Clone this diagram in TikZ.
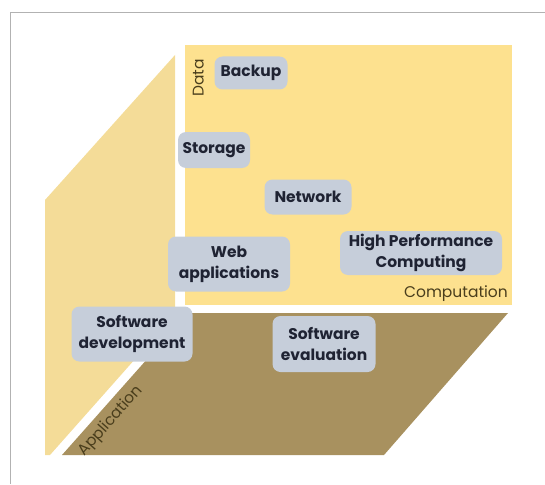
\documentclass[tikz,border=0pt]{standalone}
\usepackage{fontspec}
\setmainfont{Poppins}
\usepackage{tikz}

\definecolor{panelyellow}{HTML}{FDE18F}
\definecolor{wallyellow}{HTML}{F4DC98}
\definecolor{floorbrown}{HTML}{A8915F}
\definecolor{tagblue}{HTML}{C6CEDA}
\definecolor{tagtext}{HTML}{1F2333}
\definecolor{axistext}{HTML}{4A3E1C}

\tikzset{
  usecase/.style={
    fill=tagblue,
    rounded corners=8pt,
    align=center,
    inner sep=2pt,
    text=tagtext,
    font=\bfseries\fontsize{15.5}{21}\selectfont
  },
  axislabel/.style={
    text=axistext,
    inner sep=0pt,
    font=\fontsize{15.5}{17}\selectfont
  }
}

\begin{document}
\begin{tikzpicture}[x=1pt,y=-1pt]
\useasboundingbox (0,0) rectangle (545,484);

% frame
\draw[gray!60, line width=1pt] (10,484) -- (10,13) -- (545,13);

% the three planes
\fill[wallyellow] (45,200) -- (175,55) -- (175,314) -- (50,455) -- (45,455) -- cycle;
\fill[panelyellow] (185,45) rectangle (512,305);
\fill[floorbrown] (188,313) -- (508,313) -- (384,455) -- (62,455) -- cycle;

% axis labels
\node[axislabel, rotate=90, anchor=south west] (data) at (204,97) {Data};
\node[axislabel, anchor=south east] (comp) at (508,302) {Computation};
\node[axislabel, rotate=48.5, anchor=north west, inner sep=1pt] (appl) at (74,449) {Application};

% use cases
\node[usecase, minimum width=73pt, minimum height=33pt] (backup) at (251,73) {Backup};
\node[usecase, minimum width=72pt, minimum height=36pt] (storage) at (214,150) {Storage};
\node[usecase, minimum width=87pt, minimum height=35pt] (network) at (308,197) {Network};
\node[usecase, minimum width=122pt, minimum height=55pt] (webapp) at (229,264)
{Web\\applications};
\node[usecase, minimum width=162pt, minimum height=44pt] (hpc) at (421,253)
{High Performance\\Computing};
\node[usecase, minimum width=121pt, minimum height=55pt] (swdev) at (132,334)
{Software\\development};
\node[usecase, minimum width=103pt, minimum height=56pt] (sweval) at (324,344)
{Software\\evaluation};

\end{tikzpicture}
\end{document}
